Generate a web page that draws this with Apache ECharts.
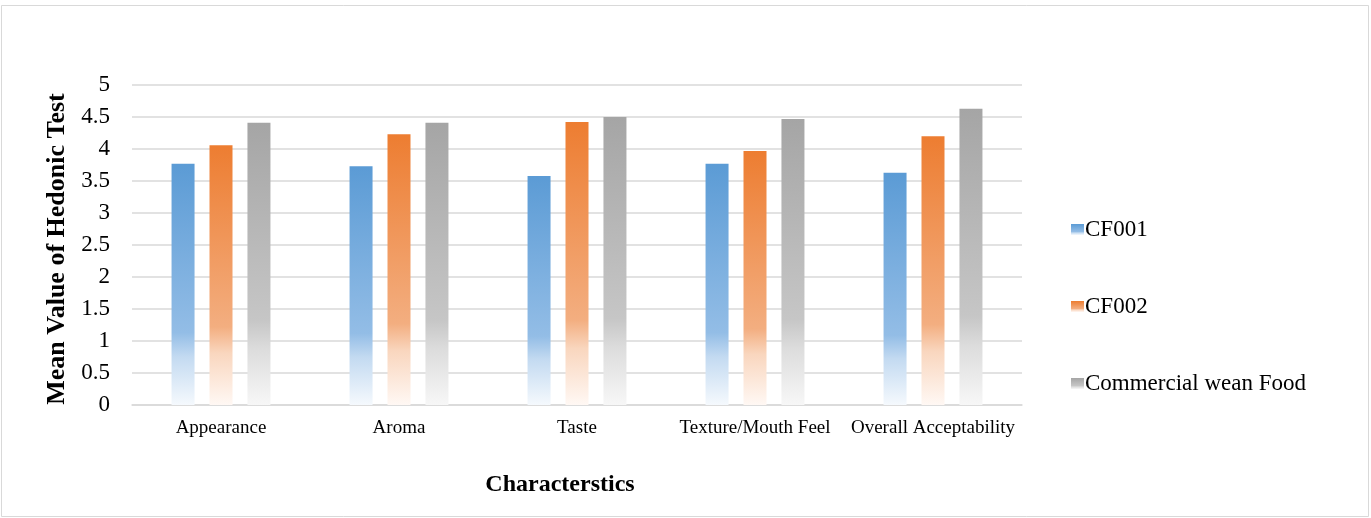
<!DOCTYPE html>
<html><head><meta charset="utf-8">
<script src="https://cdn.jsdelivr.net/npm/echarts@6/dist/echarts.min.js"></script>
<style>html,body{margin:0;padding:0;background:#fff}#c{width:1371px;height:518px}</style>
</head><body><div id="c"></div>
<script>
const categories = ['Appearance', 'Aroma', 'Taste', 'Texture/Mouth Feel', 'Overall Acceptability'];
const cf001 = [3.77, 3.73, 3.58, 3.77, 3.63];
const cf002 = [4.06, 4.23, 4.42, 3.97, 4.20];
const commercial = [4.41, 4.41, 4.50, 4.47, 4.63];
const yTicks = [0, 0.5, 1, 1.5, 2, 2.5, 3, 3.5, 4, 4.5, 5];

const FONT = '"Liberation Serif", "Times New Roman", serif';
function grad(c0, c1, c2, c3) {
  return new echarts.graphic.LinearGradient(0, 0, 0, 1, [
    {offset: 0, color: c0}, {offset: 0.7, color: c1}, {offset: 0.8, color: c2}, {offset: 1, color: c3}
  ]);
}
const chart = echarts.init(document.getElementById('c'), null, {renderer: 'canvas'});
chart.setOption({
  backgroundColor: '#fff',
  animation: false,
  graphic: [{type: 'rect', shape: {x: 1.5, y: 5.5, width: 1367, height: 511}, style: {fill: 'none', stroke: '#d9d9d9', lineWidth: 1}, silent: true}],
  grid: {left: 132, right: 349, top: 85, bottom: 113, containLabel: false},
  legend: {
    orient: 'vertical', left: 1066, top: 213, itemWidth: 13, itemHeight: 11, itemGap: 54,
    icon: 'rect',
    textStyle: {fontFamily: FONT, fontSize: 23, color: '#000', padding: [0, 0, 0, -4]},
    data: ['CF001', 'CF002', 'Commercial wean Food']
  },
  xAxis: {
    type: 'category', data: categories,
    axisLine: {lineStyle: {color: '#d9d9d9', width: 1.5}}, axisTick: {show: false},
    axisLabel: {fontFamily: FONT, fontSize: 19, color: '#000', margin: 14, interval: 0},
    name: 'Characterstics', nameLocation: 'middle', nameGap: 68,
    nameTextStyle: {fontFamily: FONT, fontSize: 24, fontWeight: 'bold', color: '#000', padding: [0, 34, 0, 0]}
  },
  yAxis: {
    type: 'value', min: 0, max: 5, interval: 0.5,
    axisLine: {show: false}, axisTick: {show: false},
    axisLabel: {fontFamily: FONT, fontSize: 23, color: '#000', margin: 22,
      formatter: v => yTicks.includes(v) ? String(v) : ''},
    splitLine: {lineStyle: {color: '#d9d9d9', width: 1.5}},
    name: 'Mean Value of Hedonic Test', nameLocation: 'middle', nameGap: 55,
    nameTextStyle: {fontFamily: FONT, fontSize: 26, fontWeight: 'bold', color: '#000', padding: [0, 8, 0, 0]}
  },
  series: [
    {name: 'CF001', type: 'bar', data: cf001, barWidth: 23, barGap: '65%', barCategoryGap: '44%',
      itemStyle: {color: grad('#5B9BD5', '#93BDE6', '#C3DAF1', '#F5F9FD')}},
    {name: 'CF002', type: 'bar', data: cf002, barWidth: 23, barGap: '65%',
      itemStyle: {color: grad('#ED7D31', '#F3AE80', '#F9D6BE', '#FFF8F4')}},
    {name: 'Commercial wean Food', type: 'bar', data: commercial, barWidth: 23, barGap: '65%',
      itemStyle: {color: grad('#A5A5A5', '#C6C6C6', '#DCDCDC', '#F7F7F7')}}
  ]
});
</script></body></html>
